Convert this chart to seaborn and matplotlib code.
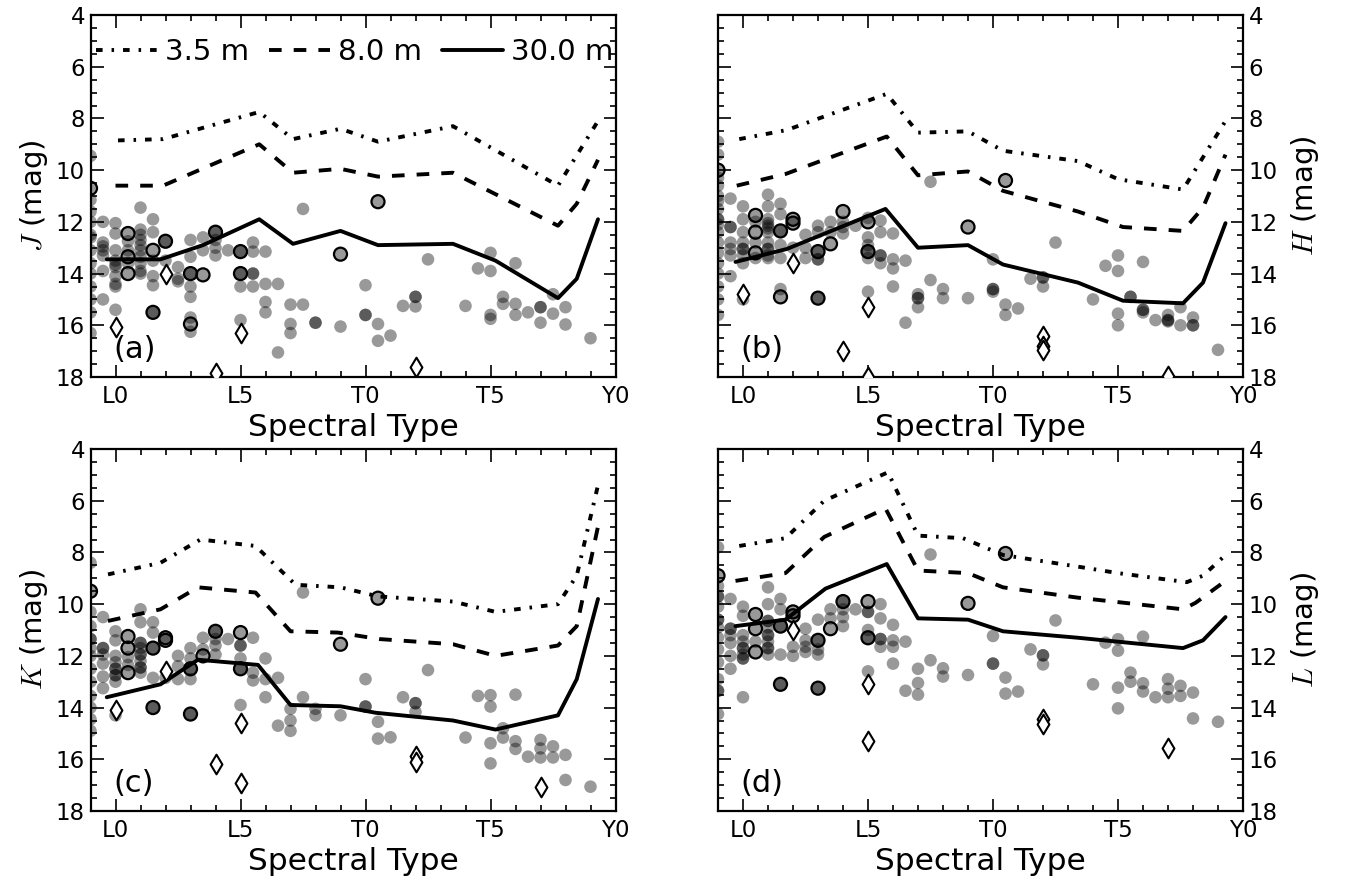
import numpy as np
import pandas as pd
import matplotlib
matplotlib.use("Agg")
import matplotlib.pyplot as plt
import seaborn as sns
from matplotlib.ticker import MultipleLocator, FixedLocator
from matplotlib.lines import Line2D

# ---------------- data ----------------
spt_ticks = [0, 5, 10, 15, 20]
spt_labels = ["L0", "L5", "T0", "T5", "Y0"]
mag_ticks = [4, 6, 8, 10, 12, 14, 16, 18]
model_labels = ["3.5 m", "8.0 m", "30.0 m"]
band_labels = [r"$J$ (mag)", r"$H$ (mag)", r"$K$ (mag)", r"$L$ (mag)"]
panel_tags = ["(a)", "(b)", "(c)", "(d)"]

# detection-limit curves (spectral type, magnitude)
a_d35_x = [0.1, 1.9, 5.75, 7.1, 9.0, 10.5, 13.5, 17.7, 19.3]
a_d35_y = [8.85, 8.8, 7.75, 8.8, 8.4, 8.9, 8.3, 10.6, 8.1]
a_d80_x = [0.0, 1.9, 5.75, 7.1, 9.0, 10.5, 13.5, 17.7, 18.45, 19.3]
a_d80_y = [10.6, 10.6, 9.0, 10.1, 9.95, 10.25, 10.1, 12.15, 11.3, 9.6]
a_d30_x = [-0.35, 1.8, 3.5, 5.75, 7.1, 9.0, 10.5, 13.5, 15.2, 17.7, 18.45, 19.3]
a_d30_y = [13.45, 13.45, 12.9, 11.9, 12.85, 12.35, 12.9, 12.85, 13.5, 14.95, 14.2, 11.9]

b_d35_x = [-0.15, 1.75, 5.75, 7.0, 9.0, 10.4, 13.4, 15.0, 17.6, 19.3]
b_d35_y = [8.8, 8.45, 7.05, 8.55, 8.5, 9.25, 9.65, 10.35, 10.75, 8.1]
b_d80_x = [-0.25, 1.7, 5.75, 7.0, 9.0, 10.4, 13.4, 15.2, 17.6, 18.4, 19.3]
b_d80_y = [10.6, 10.15, 8.7, 10.2, 10.05, 10.8, 11.6, 12.2, 12.35, 11.45, 9.4]
b_d30_x = [-0.3, 1.75, 5.7, 7.0, 9.0, 10.4, 13.4, 15.2, 17.6, 18.4, 19.3]
b_d30_y = [13.55, 13.05, 11.5, 13.0, 12.9, 13.65, 14.35, 15.05, 15.15, 14.35, 12.05]

c_d35_x = [-0.3, 1.8, 3.4, 5.6, 7.2, 9.0, 10.5, 13.5, 15.2, 17.7, 18.45, 19.3]
c_d35_y = [8.85, 8.4, 7.5, 7.75, 9.25, 9.35, 9.7, 9.9, 10.3, 10.0, 8.9, 5.4]
c_d80_x = [-0.3, 1.8, 3.3, 5.6, 7.0, 8.9, 10.55, 13.5, 15.2, 17.7, 18.45, 19.3]
c_d80_y = [10.65, 10.2, 9.35, 9.55, 11.05, 11.1, 11.35, 11.55, 12.0, 11.6, 10.85, 7.0]
c_d30_x = [-0.35, 1.8, 3.3, 5.7, 7.0, 9.0, 10.4, 13.5, 15.2, 17.7, 18.45, 19.3]
c_d30_y = [13.6, 13.1, 12.15, 12.35, 13.9, 13.95, 14.2, 14.5, 14.85, 14.3, 12.9, 9.8]

d_d35_x = [-0.15, 1.7, 3.25, 5.8, 7.0, 8.8, 10.4, 13.4, 15.0, 17.75, 18.4, 19.3]
d_d35_y = [7.75, 7.45, 6.0, 4.9, 7.35, 7.45, 8.1, 8.55, 8.8, 9.15, 8.9, 8.1]
d_d80_x = [-0.3, 1.7, 3.25, 5.7, 7.0, 9.0, 10.4, 13.4, 17.6, 18.1, 19.3]
d_d80_y = [9.1, 8.8, 7.4, 6.3, 8.7, 8.8, 9.35, 9.75, 10.2, 9.95, 9.1]
d_d30_x = [-0.3, 1.7, 3.3, 5.75, 7.0, 9.0, 10.4, 13.4, 17.6, 18.4, 19.3]
d_d30_y = [10.85, 10.6, 9.4, 8.45, 10.55, 10.6, 11.05, 11.3, 11.7, 11.4, 10.5]

# field objects: spectral type -> magnitudes
a_field = {-1: [9.45, 11.15, 11.6, 12.0, 12.5, 12.6, 13.1, 13.6, 14.0, 14.5, 15.0, 15.5, 16.3],
           -0.5: [12.0, 12.8, 12.95, 13.1, 13.3, 13.9, 15.0],
           0: [12.05, 12.45, 13.1, 13.5, 13.65, 13.75, 14.1, 14.4, 14.5, 15.4],
           0.5: [12.75, 13.1, 13.6],
           1: [11.45, 12.3, 12.5, 12.7, 12.9, 13.1, 13.35, 13.6, 13.9, 14.0],
           1.5: [11.9, 12.4, 13.5, 14.1, 14.45, 15.5],
           2: [12.75, 13.5], 2.5: [13.75, 14.2, 14.3],
           3: [12.7, 13.35, 14.0, 14.5, 14.9, 15.7, 16.25], 3.5: [12.6, 13.1],
           4: [12.4, 12.7, 13.0, 13.3], 4.5: [13.1], 5: [13.15, 14.0, 14.5, 15.8],
           5.5: [12.8, 13.15, 14.0, 14.0, 14.5], 6: [13.15, 14.4, 15.1, 15.5],
           6.5: [14.4, 17.05], 7: [15.2, 15.95, 16.3], 7.5: [11.5, 15.2], 8: [15.9, 15.9],
           9: [16.05], 10: [14.45, 15.6, 15.6], 10.5: [15.95, 16.6], 11: [16.4], 11.5: [15.25],
           12: [14.9, 14.9, 15.27], 12.5: [13.45], 14: [15.25], 14.5: [13.8],
           15: [13.2, 13.9, 15.6, 15.75], 15.5: [14.9, 15.17], 16: [13.6, 15.17, 15.6],
           16.5: [15.5], 17: [15.3, 15.3, 15.9], 17.5: [14.8, 15.55], 18: [15.3, 15.97], 19: [16.5]}
b_field = {-1: [8.9, 9.4, 10.3, 10.6, 11.0, 11.2, 11.5, 11.9, 11.9, 12.1, 12.4, 12.8, 13.2, 13.6, 14.0, 14.5, 15.0, 15.6],
           -0.5: [11.1, 12.2, 12.2, 12.8, 13.05, 13.3, 14.1],
           0: [11.4, 11.9, 12.4, 12.8, 13.05, 13.05, 13.3, 13.6, 15.0],
           0.5: [12.0, 12.8, 13.4],
           1: [10.95, 11.4, 11.9, 12.05, 12.15, 12.25, 12.4, 12.8, 13.05, 13.05, 13.3, 13.4],
           1.5: [11.3, 11.7, 12.35, 12.9, 13.4, 14.6], 2: [13.0], 2.5: [12.5, 13.0, 13.4],
           3: [12.15, 12.4, 13.15, 13.45, 13.45, 14.95], 3.5: [12.0, 12.4],
           4: [12.0, 12.2, 12.45], 4.5: [12.15], 5: [11.85, 12.6, 12.9, 13.15, 13.4, 14.7],
           5.5: [11.95, 12.4, 13.3, 13.3, 13.6], 6: [12.45, 13.45, 13.8, 14.5],
           6.5: [13.5, 15.9], 7: [14.8, 14.95, 14.95, 15.3], 7.5: [10.45, 14.25], 8: [14.6, 14.95],
           9: [14.95], 10: [13.45, 14.6, 14.6, 14.7], 10.5: [15.2, 15.6], 11: [15.35], 11.5: [14.2],
           12: [14.15, 14.15, 14.5], 12.5: [12.8], 14: [15.0], 14.5: [13.7],
           15: [13.3, 13.9, 15.55, 16.0], 15.5: [14.9, 14.9], 16: [13.55, 15.4, 15.4, 15.5],
           16.5: [15.8], 17: [15.6, 15.8, 15.8, 15.85], 17.5: [15.3, 16.0], 18: [15.7, 16.0, 16.0], 19: [16.95]}
c_field = {-1: [8.4, 10.3, 10.85, 11.35, 11.35, 11.7, 12.0, 12.5, 13.0, 13.55, 14.0, 14.45, 14.9],
           -0.5: [10.5, 11.7, 11.7, 11.95, 12.3, 12.8, 13.25],
           0: [11.05, 11.4, 12.0, 12.25, 12.5, 12.5, 12.75, 12.75, 13.0, 14.3],
           0.5: [12.05, 12.35],
           1: [10.2, 10.7, 11.5, 11.5, 11.7, 11.95, 11.95, 12.2, 12.45, 12.45, 12.65],
           1.5: [10.7, 11.1, 11.7, 12.85, 14.0], 2: [12.85], 2.5: [12.0, 12.4, 12.9],
           3: [11.7, 12.1, 12.5, 12.9, 14.25], 3.5: [11.3, 11.75],
           4: [11.05, 11.35, 11.6, 11.95], 4.5: [11.35], 5: [11.6, 11.6, 12.1, 12.5, 13.9],
           5.5: [11.3, 12.65, 12.95], 6: [12.1, 12.9, 13.6], 6.5: [12.85, 14.7],
           7: [14.05, 14.5, 14.9], 7.5: [9.55, 13.6], 8: [14.05, 14.3], 9: [14.3],
           10: [12.9, 13.96, 13.96], 10.5: [14.55, 15.2], 11: [15.15], 11.5: [13.6],
           12: [13.83, 13.83, 14.17], 12.5: [12.55], 14: [15.16], 14.5: [13.55],
           15: [13.52, 13.96, 15.38, 16.16], 15.5: [14.8, 15.16], 16: [13.5, 15.3, 15.6],
           16.5: [15.9], 17: [15.25, 15.58, 15.93], 17.5: [15.5, 15.93], 18: [15.83, 16.8], 19: [17.06]}
d_field = {-1: [7.8, 9.3, 9.7, 9.7, 10.1, 10.6, 10.6, 10.9, 11.3, 11.75, 12.25, 12.9, 13.35, 13.35, 14.25],
           -0.5: [9.8, 10.95, 10.95, 11.2, 11.5, 12.0, 12.5],
           0: [10.1, 10.45, 11.2, 11.45, 11.7, 11.7, 11.95, 12.1, 12.1, 13.6],
           0.5: [11.45],
           1: [9.35, 10.0, 10.65, 10.65, 10.9, 11.2, 11.2, 11.45, 11.7, 11.7, 11.95],
           1.5: [9.8, 10.2, 10.85, 11.95, 13.1], 2: [11.65, 12.0], 2.5: [10.95, 11.4, 11.65, 11.85],
           3: [10.6, 11.4, 11.75, 11.95, 13.25], 3.5: [10.2, 10.55],
           4: [9.9, 10.2, 10.5, 10.85], 4.5: [10.2], 5: [10.3, 10.3, 11.0, 11.3, 12.6],
           5.5: [10.0, 10.55, 11.35, 11.35, 11.65], 6: [10.8, 11.4, 11.65, 12.3],
           6.5: [11.45, 13.35], 7: [12.5, 13.05, 13.5], 7.5: [8.08, 12.17], 8: [12.48, 12.8],
           9: [12.74], 10: [11.23, 12.3, 12.3], 10.5: [12.84, 13.46], 11: [13.38], 11.5: [11.75],
           12: [11.98, 11.98, 12.33], 12.5: [10.63], 14: [13.1], 14.5: [11.49],
           15: [11.36, 11.8, 13.23, 14.03], 15.5: [12.65, 13.0], 16: [11.26, 13.06, 13.38],
           16.5: [13.6], 17: [12.9, 13.27, 13.6], 17.5: [13.16, 13.55], 18: [13.42, 14.42], 19: [14.55]}

# ringed objects (spectral type, magnitude)
a_ring_x = [-1, 0.5, 0.5, 0.5, 1.5, 1.5, 2, 3, 3, 3.5, 4, 5, 5, 9, 10.5]
a_ring_y = [10.7, 12.45, 13.35, 14.0, 13.1, 15.5, 12.75, 14.0, 15.95, 14.05, 12.4, 13.15, 14.0, 13.25, 11.22]
b_ring_x = [-1, 0.5, 0.5, 0.5, 1.5, 1.5, 2, 2, 3, 3, 3.5, 4, 5, 5, 9, 10.5]
b_ring_y = [10.0, 11.75, 12.4, 13.2, 12.35, 14.9, 11.9, 12.05, 13.15, 14.95, 12.85, 11.6, 12.0, 13.15, 12.2, 10.4]
c_ring_x = [-1, 0.5, 0.5, 0.5, 1.5, 1.5, 2, 2, 3, 3, 3.5, 4, 5, 5, 9, 10.5]
c_ring_y = [9.5, 11.25, 11.7, 12.65, 11.7, 14.0, 11.3, 11.4, 12.5, 14.25, 12.0, 11.05, 11.1, 12.5, 11.55, 9.77]
d_ring_x = [-1, 0.5, 0.5, 0.5, 1.5, 1.5, 2, 2, 3, 3, 3.5, 4, 5, 5, 9, 10.5]
d_ring_y = [8.9, 10.4, 10.95, 11.85, 10.85, 13.1, 10.3, 10.45, 11.4, 13.25, 10.95, 9.9, 9.9, 11.3, 9.97, 8.04]

# diamond objects
a_dia_x = [0, 2, 4, 5, 12]
a_dia_y = [16.05, 14.0, 17.85, 16.3, 17.6]
b_dia_x = [0, 2, 4, 5, 5, 12, 12, 12, 17]
b_dia_y = [14.8, 13.6, 17.0, 15.3, 18.0, 16.4, 16.8, 16.95, 17.95]
c_dia_x = [0, 2, 4, 5, 5, 12, 12, 17]
c_dia_y = [14.1, 12.6, 16.2, 14.6, 16.9, 15.87, 16.1, 17.09]
d_dia_x = [2, 5, 5, 12, 12, 17]
d_dia_y = [11.0, 13.1, 15.3, 14.45, 14.64, 15.58]

panels = [
    dict(field=a_field, rx=a_ring_x, ry=a_ring_y, dx=a_dia_x, dy=a_dia_y,
         lines=[(a_d35_x, a_d35_y), (a_d80_x, a_d80_y), (a_d30_x, a_d30_y)]),
    dict(field=b_field, rx=b_ring_x, ry=b_ring_y, dx=b_dia_x, dy=b_dia_y,
         lines=[(b_d35_x, b_d35_y), (b_d80_x, b_d80_y), (b_d30_x, b_d30_y)]),
    dict(field=c_field, rx=c_ring_x, ry=c_ring_y, dx=c_dia_x, dy=c_dia_y,
         lines=[(c_d35_x, c_d35_y), (c_d80_x, c_d80_y), (c_d30_x, c_d30_y)]),
    dict(field=d_field, rx=d_ring_x, ry=d_ring_y, dx=d_dia_x, dy=d_dia_y,
         lines=[(d_d35_x, d_d35_y), (d_d80_x, d_d80_y), (d_d30_x, d_d30_y)]),
]

# ---------------- style ----------------
sns.set_style("ticks")
plt.rcParams["font.family"] = ["DejaVu Sans"]
plt.rcParams["mathtext.fontset"] = "cm"
plt.rcParams["axes.linewidth"] = 1.5
plt.rcParams["lines.scale_dashes"] = True
for key in ["text.color", "axes.labelcolor", "xtick.color", "ytick.color",
            "axes.edgecolor"]:
    plt.rcParams[key] = "black"

line_styles = [(0, (1.7, 2.3, 0.65, 2.3)), (0, (3.25, 3.1)), "-"]
LW = 2.8

fig = plt.figure(figsize=(13.46, 8.91), dpi=100)
W, H = 1346.0, 891.0
boxes = [(90.5, 15, 615.5, 377), (718, 15, 1243, 377),
         (90.5, 449, 615.5, 811), (718, 449, 1243, 811)]

for i, (pnl, box) in enumerate(zip(panels, boxes)):
    l, t, r, b = box
    ax = fig.add_axes([l / W, 1 - b / H, (r - l) / W, (b - t) / H])

    fx, fy = [], []
    for k, vals in pnl["field"].items():
        fx += [k] * len(vals)
        fy += vals
    fx += list(pnl["rx"])
    fy += list(pnl["ry"])
    df_f = pd.DataFrame({"spt": fx, "mag": fy})
    sns.scatterplot(data=df_f, x="spt", y="mag", ax=ax, color="k", alpha=0.4,
                    s=82, linewidth=0, edgecolor="none", zorder=2)

    df_r = pd.DataFrame({"spt": pnl["rx"], "mag": pnl["ry"]})
    sns.scatterplot(data=df_r, x="spt", y="mag", ax=ax, facecolor="none",
                    edgecolor="k", s=88, linewidth=1.6, zorder=3)

    for (lx, ly), ls in zip(pnl["lines"], line_styles):
        df_l = pd.DataFrame({"spt": lx, "mag": ly})
        sns.lineplot(data=df_l, x="spt", y="mag", ax=ax, color="k", linewidth=LW,
                     sort=False, estimator=None, zorder=4)
        ax.lines[-1].set_linestyle(ls)

    df_d = pd.DataFrame({"spt": pnl["dx"], "mag": pnl["dy"]})
    sns.scatterplot(data=df_d, x="spt", y="mag", ax=ax, marker="d", facecolor="white",
                    edgecolor="k", s=100, linewidth=1.5, zorder=5)

    ax.set_xlim(-1, 20)
    ax.set_ylim(18, 4)
    ax.xaxis.set_major_locator(FixedLocator(spt_ticks))
    ax.set_xticklabels(spt_labels)
    ax.xaxis.set_minor_locator(MultipleLocator(1))
    ax.yaxis.set_major_locator(FixedLocator(mag_ticks))
    ax.yaxis.set_minor_locator(MultipleLocator(0.5))
    ax.tick_params(which="both", direction="in", top=True, right=True,
                   bottom=True, left=True, width=1.2, labelsize=16.5, colors="black")
    ax.tick_params(which="major", length=9)
    ax.tick_params(which="minor", length=4.5)
    ax.tick_params(axis="x", pad=6)
    ax.tick_params(axis="y", pad=4)
    ax.set_xlabel("Spectral Type", fontsize=22.5, labelpad=3, color="black")
    ax.set_ylabel(band_labels[i], fontsize=21, color="black")
    if i in (1, 3):
        ax.yaxis.tick_right()
        ax.yaxis.set_label_position("right")
        ax.tick_params(which="both", left=True, right=True, labelleft=False, labelright=True)
        ax.set_ylabel(band_labels[i], fontsize=21, rotation=90, labelpad=8, color="black")
    for sp in ax.spines.values():
        sp.set_linewidth(1.6)
        sp.set_color("k")
    ax.text(0.043, 0.035, panel_tags[i], transform=ax.transAxes, fontsize=22,
            ha="left", va="bottom", color="black")
    if ax.get_legend() is not None:
        ax.get_legend().remove()

    if i == 0:
        handles = [Line2D([], [], color="k", lw=LW, linestyle=ls) for ls in line_styles]
        leg = ax.legend(handles, model_labels, loc="center", bbox_to_anchor=(0.503, 0.898),
                        ncol=3, frameon=False, fontsize=21, handlelength=2.1,
                        handletextpad=0.25, columnspacing=0.7, borderpad=0, borderaxespad=0)
        for txt in leg.get_texts():
            txt.set_color("black")

fig.savefig("out.png", dpi=100)
